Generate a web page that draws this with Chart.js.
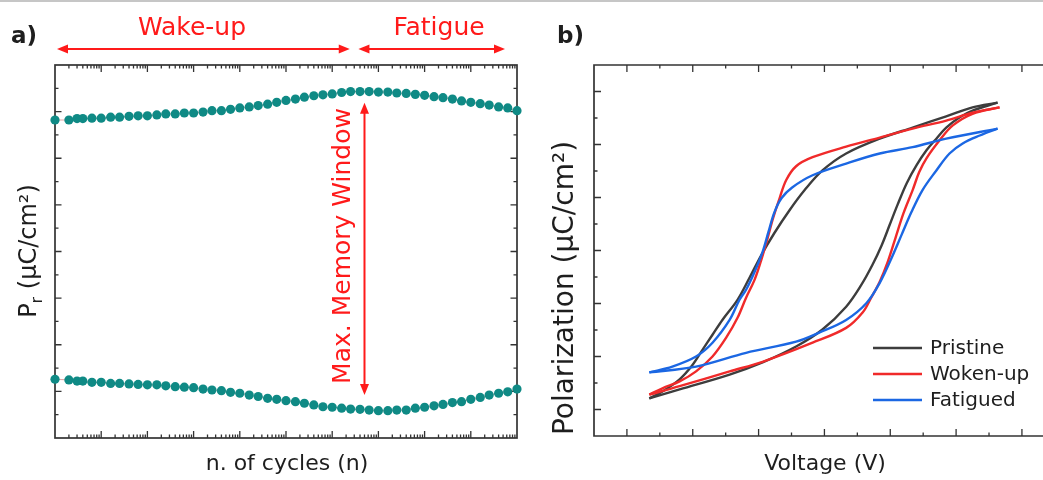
<!DOCTYPE html>
<html>
<head>
<meta charset="utf-8">
<script src="https://cdn.jsdelivr.net/npm/chart.js@4.4.1/dist/chart.umd.min.js"></script>
<style>
  html, body { margin: 0; padding: 0; background: #fff; overflow: hidden; width: 1043px; height: 480px; }
  #topline { position: absolute; left: 0; top: 0; width: 1043px; height: 2px; background: #c6c6c6; }
  #wa { position: absolute; left: 0; top: 0; width: 540px; height: 480px; }
  #wb { position: absolute; left: 540px; top: 0; width: 503px; height: 480px; }
</style>
</head>
<body>
<div id="topline"></div>
<div id="wa"><canvas id="ca" width="540" height="480"></canvas></div>
<div id="wb"><canvas id="cb" width="503" height="480"></canvas></div>
<script>
// ---- a) remanent polarization vs. number of cycles ----
const cycles = [1, 2, 3, 4, 6.3,
  10, 16, 25, 40, 63,
  100, 160, 250, 400, 630,
  1e3, 1.6e3, 2.5e3, 4e3, 6.3e3,
  1e4, 1.6e4, 2.5e4, 4e4, 6.3e4,
  1e5, 1.6e5, 2.5e5, 4e5, 6.3e5,
  1e6, 1.6e6, 2.5e6, 4e6, 6.3e6,
  1e7, 1.6e7, 2.5e7, 4e7, 6.3e7,
  1e8, 1.6e8, 2.5e8, 4e8, 6.3e8,
  1e9, 1.6e9, 2.5e9, 4e9, 6.3e9,
  1e10];
const prUpper = [6.82, 6.82, 6.85, 6.85, 6.86, 6.86, 6.88, 6.88, 6.90, 6.91,
  6.91, 6.93, 6.95, 6.95, 6.97, 6.97, 6.99, 7.02, 7.02, 7.05,
  7.08, 7.10, 7.13, 7.16, 7.20, 7.24, 7.27, 7.31, 7.34, 7.36,
  7.38, 7.41, 7.43, 7.43, 7.43, 7.42, 7.42, 7.40, 7.39, 7.37,
  7.35, 7.32, 7.30, 7.27, 7.23, 7.20, 7.17, 7.14, 7.10, 7.08,
  7.02];
const prLower = [1.26, 1.245, 1.22, 1.22, 1.195, 1.195, 1.17, 1.17, 1.16, 1.15,
  1.14, 1.14, 1.12, 1.10, 1.09, 1.08, 1.05, 1.03, 1.015, 0.98,
  0.96, 0.92, 0.89, 0.85, 0.83, 0.80, 0.78, 0.745, 0.71, 0.67,
  0.66, 0.64, 0.62, 0.615, 0.60, 0.585, 0.585, 0.60, 0.60, 0.64,
  0.66, 0.69, 0.72, 0.76, 0.78, 0.83, 0.87, 0.92, 0.96, 0.99,
  1.05];

// ---- b) P-V hysteresis loops (upper branch: +V -> -V, lower branch: -V -> +V) ----
const pristineUpV = [2.63, 2.25, 1.85, 1.34, 0.84, 0.33, -0.03, -0.30, -0.53, -0.76, -0.96, -1.14, -1.32, -1.55, -1.70, -1.85, -2.01, -2.20, -2.46, -2.66];
const pristineUpP = [2.79, 2.70, 2.53, 2.32, 2.11, 1.83, 1.51, 1.14, 0.76, 0.33, -0.09, -0.52, -0.93, -1.31, -1.59, -1.87, -2.17, -2.43, -2.66, -2.79];
const pristineDnV = [-2.66, -2.20, -1.44, -0.94, -0.43, -0.03, 0.33, 0.56, 0.73, 0.87, 0.99, 1.11, 1.25, 1.40, 1.55, 1.70, 1.85, 2.05, 2.25, 2.63];
const pristineDnP = [-2.79, -2.62, -2.34, -2.11, -1.81, -1.49, -1.06, -0.65, -0.27, 0.10, 0.48, 0.86, 1.27, 1.61, 1.89, 2.11, 2.32, 2.51, 2.64, 2.79];

const wokenUpV = [2.66, 2.25, 1.85, 1.34, 0.84, 0.33, -0.18, -0.43, -0.58, -0.68, -0.78, -0.87, -0.96, -1.06, -1.19, -1.32, -1.49, -1.70, -1.95, -2.20, -2.46, -2.66];
const wokenUpP = [2.70, 2.60, 2.45, 2.30, 2.13, 1.96, 1.76, 1.59, 1.33, 0.99, 0.61, 0.20, -0.18, -0.55, -0.89, -1.27, -1.64, -2.00, -2.28, -2.47, -2.60, -2.72];
const wokenDnV = [-2.66, -2.20, -1.44, -0.94, -0.18, 0.33, 0.58, 0.71, 0.84, 0.96, 1.08, 1.20, 1.34, 1.44, 1.55, 1.75, 1.95, 2.25, 2.66];
const wokenDnP = [-2.72, -2.56, -2.28, -2.10, -1.74, -1.46, -1.17, -0.89, -0.59, -0.22, 0.24, 0.70, 1.14, 1.48, 1.74, 2.08, 2.36, 2.58, 2.70];

const fatiguedUpV = [2.63, 1.85, 1.34, 0.84, 0.33, -0.18, -0.49, -0.65, -0.76, -0.85, -0.94, -1.06, -1.19, -1.29, -1.44, -1.70, -1.95, -2.31, -2.66];
const fatiguedUpP = [2.30, 2.11, 1.95, 1.83, 1.64, 1.42, 1.19, 0.99, 0.72, 0.35, -0.03, -0.40, -0.74, -0.93, -1.31, -1.74, -2.00, -2.19, -2.30];
const fatiguedDnV = [-2.66, -1.95, -1.19, -0.43, -0.08, 0.33, 0.64, 0.84, 1.02, 1.17, 1.32, 1.49, 1.70, 1.90, 2.10, 2.36, 2.63];
const fatiguedDnP = [-2.30, -2.19, -1.93, -1.72, -1.55, -1.31, -0.99, -0.61, -0.14, 0.29, 0.72, 1.14, 1.51, 1.83, 2.02, 2.17, 2.30];

const loopNames = ['Pristine', 'Woken-up', 'Fatigued'];
const loopColors = ['#3d3d3d', '#f02a2a', '#1b67e3'];

const FONT = '"DejaVu Sans", Verdana, sans-serif';
const FRAME = '#333333';
const RED = '#ff1a1a';
const INK = '#1e1e1e';

function pts(xs, ys) { return xs.map((v, i) => ({ x: v, y: ys[i] })); }

function tick(ctx, x0, y0, x1, y1) { ctx.moveTo(x0, y0); ctx.lineTo(x1, y1); }

function arrowHead(ctx, x, y, ang) {
  const L = 11, W = 4.5;
  ctx.beginPath();
  ctx.moveTo(x, y);
  ctx.lineTo(x - L * Math.cos(ang) + W * Math.sin(ang), y - L * Math.sin(ang) - W * Math.cos(ang));
  ctx.lineTo(x - L * Math.cos(ang) - W * Math.sin(ang), y - L * Math.sin(ang) + W * Math.cos(ang));
  ctx.closePath();
  ctx.fill();
}

function doubleArrow(ctx, x0, y0, x1, y1) {
  const ang = Math.atan2(y1 - y0, x1 - x0);
  ctx.beginPath();
  ctx.moveTo(x0 + 6 * Math.cos(ang), y0 + 6 * Math.sin(ang));
  ctx.lineTo(x1 - 6 * Math.cos(ang), y1 - 6 * Math.sin(ang));
  ctx.stroke();
  arrowHead(ctx, x1, y1, ang);
  arrowHead(ctx, x0, y0, ang + Math.PI);
}

function rotatedText(ctx, text, baseX, centerY, font, color) {
  ctx.save();
  ctx.translate(baseX, centerY);
  ctx.rotate(-Math.PI / 2);
  ctx.font = font;
  ctx.fillStyle = color;
  ctx.textAlign = 'center';
  ctx.textBaseline = 'alphabetic';
  ctx.fillText(text, 0, 0);
  ctx.restore();
}

// frame, inward ticks and annotations of panel a
const panelA = {
  id: 'panelA',
  beforeDatasetsDraw(chart) {
    const { ctx, chartArea: a, scales: { x, y } } = chart;
    ctx.save();
    ctx.strokeStyle = FRAME;
    ctx.lineWidth = 1.7;
    ctx.strokeRect(a.left, a.top, a.right - a.left, a.bottom - a.top);
    ctx.lineWidth = 1.3;
    ctx.beginPath();
    for (let d = 0; d < 10; d++) {
      for (let m = 1; m <= 9; m++) {
        if (d === 0 && m === 1) continue;
        const px = x.getPixelForValue(m * Math.pow(10, d));
        const len = m === 1 ? 7 : 3.5;
        tick(ctx, px, a.bottom, px, a.bottom - len);
        tick(ctx, px, a.top, px, a.top + len);
      }
    }
    for (let v = 0.5; v < 8; v += 0.5) {
      const py = y.getPixelForValue(v);
      const len = Number.isInteger(v) ? 6.5 : 3.5;
      tick(ctx, a.left, py, a.left + len, py);
      tick(ctx, a.right, py, a.right - len, py);
    }
    ctx.stroke();
    ctx.restore();
  },
  afterDraw(chart) {
    const { ctx, chartArea: a, scales: { x, y } } = chart;
    ctx.save();
    // panel letter
    ctx.font = 'bold 23px ' + FONT;
    ctx.fillStyle = INK;
    ctx.textAlign = 'left';
    ctx.fillText('a)', 11, 43);

    // wake-up / fatigue regions
    ctx.fillStyle = RED;
    ctx.strokeStyle = RED;
    ctx.lineWidth = 2;
    ctx.font = '25px ' + FONT;
    ctx.textAlign = 'center';
    ctx.fillText('Wake-up', 192, 35);
    ctx.fillText('Fatigue', 439, 35);
    doubleArrow(ctx, a.left + 2, 49, x.getPixelForValue(2.4e6), 49);
    doubleArrow(ctx, x.getPixelForValue(3.7e6), 49, x.getPixelForValue(5.5e9), 49);

    // memory window at its widest point
    const wx = x.getPixelForValue(5e6);
    doubleArrow(ctx, wx, y.getPixelForValue(7.19), wx, y.getPixelForValue(0.92));
    rotatedText(ctx, 'Max. Memory Window', wx - 14, 246, '25px ' + FONT, RED);

    // axis titles
    ctx.fillStyle = INK;
    ctx.font = '22px ' + FONT;
    ctx.textAlign = 'center';
    ctx.fillText('n. of cycles (n)', (a.left + a.right) / 2 + 1, 470);

    // P_r (µC/cm²) with a subscript r
    ctx.save();
    ctx.translate(36, 251);
    ctx.rotate(-Math.PI / 2);
    const big = '24px ' + FONT, small = '16px ' + FONT;
    ctx.font = big; const wP = ctx.measureText('P').width;
    const rest = ' (\u03bcC/cm\u00b2)'; const wRest = ctx.measureText(rest).width;
    ctx.font = small; const wr = ctx.measureText('r').width;
    let cx = -(wP + wr + wRest) / 2;
    ctx.textAlign = 'left';
    ctx.font = big; ctx.fillText('P', cx, 0); cx += wP;
    ctx.font = small; ctx.fillText('r', cx, 6); cx += wr;
    ctx.font = big; ctx.fillText(rest, cx, 0);
    ctx.restore();
    ctx.restore();
  }
};

// frame, inward ticks, titles and legend of panel b
const panelB = {
  id: 'panelB',
  beforeDatasetsDraw(chart) {
    const { ctx, chartArea: a, scales: { x, y } } = chart;
    ctx.save();
    ctx.strokeStyle = FRAME;
    ctx.lineWidth = 1.7;
    ctx.beginPath();
    ctx.moveTo(a.right + 2, a.top);
    ctx.lineTo(a.left, a.top);
    ctx.lineTo(a.left, a.bottom);
    ctx.lineTo(a.right + 2, a.bottom);
    ctx.stroke();
    ctx.lineWidth = 1.3;
    ctx.beginPath();
    for (let v = -3; v <= 3.01; v += 0.5) {
      const px = x.getPixelForValue(v);
      const len = Number.isInteger(v) ? 7 : 3.5;
      tick(ctx, px, a.bottom, px, a.bottom - len);
      tick(ctx, px, a.top, px, a.top + len);
      const py = y.getPixelForValue(v);
      tick(ctx, a.left, py, a.left + len, py);
    }
    ctx.stroke();
    ctx.restore();
  },
  afterDraw(chart) {
    const { ctx, chartArea: a } = chart;
    ctx.save();
    ctx.font = 'bold 23px ' + FONT;
    ctx.fillStyle = INK;
    ctx.textAlign = 'left';
    ctx.fillText('b)', 17, 43);

    ctx.font = '22px ' + FONT;
    ctx.textAlign = 'center';
    ctx.fillText('Voltage (V)', a.left + 231, 470);
    rotatedText(ctx, 'Polarization (\u03bcC/cm\u00b2)', 33, 288, '28px ' + FONT, INK);

    // legend
    ctx.font = '20px ' + FONT;
    ctx.textAlign = 'left';
    ctx.textBaseline = 'middle';
    ctx.lineWidth = 2.4;
    loopNames.forEach((name, i) => {
      const yy = 348 + i * 26;
      ctx.strokeStyle = loopColors[i];
      ctx.beginPath();
      ctx.moveTo(333, yy);
      ctx.lineTo(382, yy);
      ctx.stroke();
      ctx.fillStyle = INK;
      ctx.fillText(name, 390, yy + 1);
    });
    ctx.restore();
  }
};

const common = {
  responsive: false,
  animation: false,
  events: [],
  plugins: { legend: { display: false }, tooltip: { enabled: false } }
};

new Chart(document.getElementById('ca'), {
  type: 'scatter',
  data: {
    datasets: [
      { label: 'upper', data: pts(cycles, prUpper) },
      { label: 'lower', data: pts(cycles, prLower) }
    ].map(d => Object.assign(d, {
      showLine: true,
      borderColor: 'rgba(214,140,140,0.75)',
      borderWidth: 1.2,
      pointRadius: 4.6,
      pointBackgroundColor: '#0f8a85',
      pointBorderWidth: 0,
      clip: false
    }))
  },
  options: Object.assign({}, common, {
    layout: { padding: { left: 55, top: 65, right: 23, bottom: 42 } },
    scales: {
      x: { type: 'logarithmic', min: 1, max: 1e10, display: false },
      y: { type: 'linear', min: 0, max: 8, display: false }
    }
  }),
  plugins: [panelA]
});

const branches = [
  [fatiguedUpV, fatiguedUpP, 2], [fatiguedDnV, fatiguedDnP, 2],
  [wokenUpV, wokenUpP, 1], [wokenDnV, wokenDnP, 1],
  [pristineUpV, pristineUpP, 0], [pristineDnV, pristineDnP, 0]
];

new Chart(document.getElementById('cb'), {
  type: 'scatter',
  data: {
    datasets: branches.map(([vs, ps, k]) => ({
      label: loopNames[k],
      data: pts(vs, ps),
      showLine: true,
      borderColor: loopColors[k],
      borderWidth: 2.4,
      pointRadius: 0,
      tension: 0.35
    }))
  },
  options: Object.assign({}, common, {
    layout: { padding: { left: 54, top: 65, right: 0, bottom: 44 } },
    scales: {
      x: { type: 'linear', min: -3.5, max: 3.32, display: false },
      y: { type: 'linear', min: -3.5, max: 3.5, display: false }
    }
  }),
  plugins: [panelB]
});
</script>
</body>
</html>
